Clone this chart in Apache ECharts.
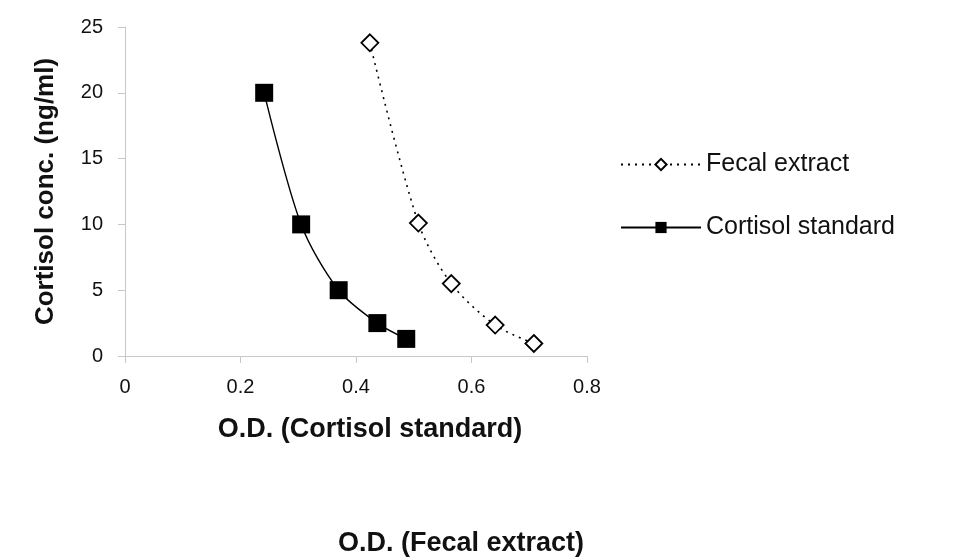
<!DOCTYPE html>
<html>
<head>
<meta charset="utf-8">
<script src="https://cdn.jsdelivr.net/npm/echarts@6/dist/echarts.min.js"></script>
<style>
  html, body { margin: 0; padding: 0; background: #fff; }
  #chart { width: 979px; height: 558px; }
</style>
</head>
<body>
<div id="chart"></div>
<script>
// 数据
var fecalOD = [0.424, 0.508, 0.565, 0.641, 0.708];
var fecalConc = [23.8, 10.1, 5.5, 2.35, 0.95];
var stdOD = [0.241, 0.305, 0.370, 0.437, 0.487];
var stdConc = [20, 10, 5, 2.5, 1.3];
var xTicks = [0, 0.2, 0.4, 0.6, 0.8];
var yTicks = [0, 5, 10, 15, 20, 25];

function pairs(xs, ys) {
  return xs.map(function (x, i) { return [x, ys[i]]; });
}

var chart = echarts.init(document.getElementById('chart'));
var font = 'Liberation Sans, Arial, sans-serif';

var option = {
  animation: false,
  textStyle: { fontFamily: font },
  grid: { left: 125, right: 392, top: 27, bottom: 202 },
  // 第二个横轴标题
  title: {
    text: 'O.D. (Fecal extract)',
    left: 333,
    top: 525,
    textStyle: { fontFamily: font, fontSize: 27, fontWeight: 'bold', color: '#111' }
  },
  legend: {
    orient: 'vertical',
    left: 615,
    top: 147,
    itemGap: 38,
    itemWidth: 80,
    itemHeight: 14,
    textStyle: { fontFamily: font, fontSize: 25, color: '#111' },
    data: ['Fecal extract', 'Cortisol standard']
  },
  xAxis: {
    type: 'value',
    min: 0, max: 0.8, interval: 0.2,
    name: 'O.D. (Cortisol standard)',
    nameLocation: 'middle',
    nameGap: 60,
    nameTextStyle: { fontFamily: font, fontSize: 27, fontWeight: 'bold', color: '#111', padding: [0, 0, 0, 28] },
    axisLine: { lineStyle: { color: '#c8c8c8' } },
    axisTick: { show: true, length: 7, lineStyle: { color: '#c8c8c8' } },
    axisLabel: {
      fontSize: 20, color: '#111', margin: 21,
      formatter: function (v) { return xTicks.indexOf(+v.toFixed(1)) >= 0 ? String(+v.toFixed(1)) : ''; }
    },
    splitLine: { show: false }
  },
  yAxis: {
    type: 'value',
    min: 0, max: 25, interval: 5,
    name: 'Cortisol conc. (ng/ml)',
    nameLocation: 'middle',
    nameGap: 66,
    nameTextStyle: { fontFamily: font, fontSize: 26, fontWeight: 'bold', color: '#111' },
    axisLine: { show: true, lineStyle: { color: '#c8c8c8' } },
    axisTick: { show: true, length: 7, lineStyle: { color: '#c8c8c8' } },
    axisLabel: {
      fontSize: 20, color: '#111', margin: 22,
      formatter: function (v) { return yTicks.indexOf(v) >= 0 ? String(v) : ''; }
    },
    splitLine: { show: false }
  },
  series: [
    {
      name: 'Fecal extract',
      type: 'line',
      smooth: 0.3,
      data: pairs(fecalOD, fecalConc),
      symbol: 'diamond',
      symbolSize: 17,
      itemStyle: { color: '#fff', borderColor: '#000', borderWidth: 1.8 },
      lineStyle: { color: '#000', width: 1.6, type: [2, 5] }
    },
    {
      name: 'Cortisol standard',
      type: 'line',
      smooth: 0.3,
      data: pairs(stdOD, stdConc),
      symbol: 'rect',
      symbolSize: 18,
      itemStyle: { color: '#000', borderColor: '#000', borderWidth: 0 },
      lineStyle: { color: '#000', width: 1.4 }
    }
  ]
};

chart.setOption(option);
</script>
</body>
</html>
